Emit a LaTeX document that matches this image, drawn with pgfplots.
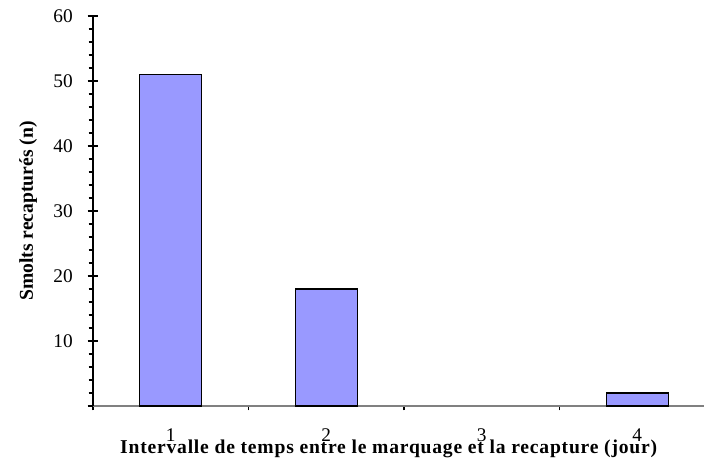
\documentclass[border=0pt]{standalone}
\usepackage{fontspec}
\setmainfont{Liberation Serif}
\usepackage{pgfplots}
\pgfplotsset{compat=1.18}
\definecolor{barfill}{HTML}{9999FF}
\newcommand{\tickfont}{\fontsize{14.5}{16}\selectfont}
\begin{document}
\begin{tikzpicture}
\begin{axis}[
  at={(69.75pt,42pt)}, anchor=south west,
  scale only axis, width=466.5pt, height=292.5pt,
  xmin=0.5, xmax=4.5, ymin=0, ymax=60,
  axis x line=bottom, axis y line=left,
  axis line style={-},
  x axis line style={draw=gray, line width=1.5pt},
  y axis line style={draw=black, line width=0.8pt},
  ybar, bar width=46.5pt,
  tick align=center,
  xtick={1,2,3,4},
  xticklabels={{\tickfont 1},{\tickfont 2},{\tickfont 3},{\tickfont 4}},
  major x tick style={draw=none},
  minor xtick={0.5,1.5,2.5,3.5,4.5},
  minor x tick style={black, line width=0.8pt, yshift=-1.6pt},
  ytick={0,10,20,30,40,50,60},
  yticklabels={,{\tickfont 10},{\tickfont 20},{\tickfont 30},{\tickfont 40},{\tickfont 50},{\tickfont 60}},
  minor y tick num=4,
  major tick length=8pt,
  minor tick length=3.2pt,
  major y tick style={black, line width=0.8pt},
  minor y tick style={black, line width=0.8pt, xshift=-1.6pt},
  xticklabel style={anchor=base, yshift=-22.8pt},
  yticklabel style={anchor=east, inner sep=0pt, xshift=-11pt},
  xlabel={\addfontfeature{LetterSpace=4}\textbf{Intervalle de temps entre le marquage et la recapture (jour)}},
  xlabel style={font=\fontsize{14.7}{16}\selectfont, at={(axis description cs:0.476,0)}, anchor=base, yshift=-35.3pt},
  ylabel={\textbf{Smolts recapturés (n)}},
  ylabel style={font=\fontsize{14.7}{16}\selectfont, at={(axis description cs:-0.0965,0.5)}, anchor=base, rotate=0},
]
\addplot[fill=barfill, draw=black, line width=1.1pt] coordinates {(1,51) (2,18) (4,2)};
\end{axis}
\pgfresetboundingbox
\useasboundingbox (0,0) rectangle (528pt,346.5pt);
\end{tikzpicture}
\end{document}
